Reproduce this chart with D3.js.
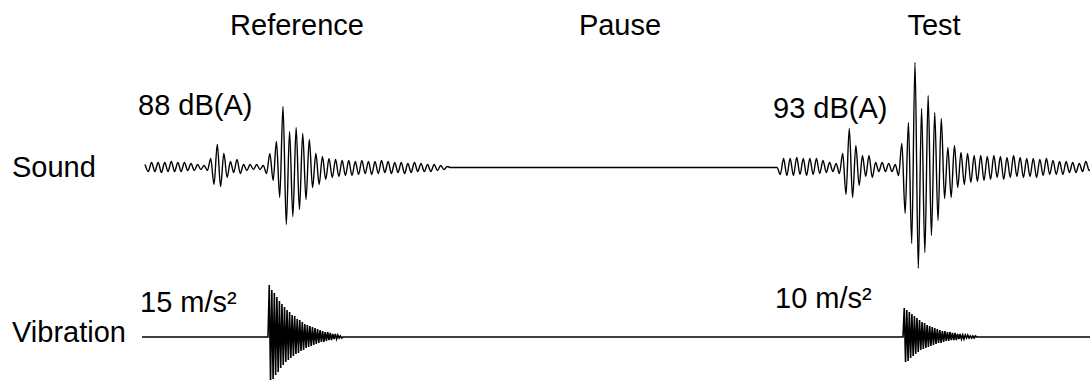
<!DOCTYPE html>
<html>
<head>
<meta charset="utf-8">
<script src="https://cdn.jsdelivr.net/npm/d3@7"></script>
<style>
  body { margin: 0; background: #fff; }
  text { font-family: "Liberation Sans", Arial, sans-serif; font-size: 29px; fill: #000; }
</style>
</head>
<body>
<div id="chart"></div>
<script>
// phases across the top
const phases = ["Reference", "Pause", "Test"];
const phaseTimes = [155, 478, 792];      // ms, centre of each title

// level labels
const soundLevels = ["88 dB(A)", "93 dB(A)"];
const vibLevels = ["15 m/s²", "10 m/s²"];

// sound: successive half-wave peaks (relative amplitude), one every soundStep ms
const soundStep = 3.2857;
const soundRefStart = 3;
const soundRef = [
  3, -4, 5, -4, 5, -5, 5, -4, 6, -4,
  5, -4, 5, -3, 4, -3, 3, -2, 2, -3,
  9, -17, 23, -19, 14, -10, 6, -5, 8, -6,
  3, -3, 3, -2, 3, -2, 2, -6, 14, -13,
  26, -30, 61, -57, 36, -49, 40, -42, 34, -32,
  28, -20, 14, -17, 11, -12, 9, -10, 8, -9,
  7, -8, 7, -8, 6, -7, 7, -6, 6, -7,
  6, -6, 7, -5, 6, -6, 5, -5, 5, -6,
  4, -5, 5, -4, 4, -4, 3, -4, 3, -3,
  2, -2, 1, 0
];
const soundTestStart = 635;
const soundTest = [
  0, -7, 9, -8, 9, -8, 10, -7, 9, -8,
  9, -7, 9, -6, 7, -5, 5, -4, 4, -6,
  14, -27, 39, -30, 22, -18, 12, -9, 12, -10,
  5, -4, 5, -4, 4, -4, 3, -8, 24, -46,
  45, -76, 105, -101, 59, -85, 72, -68, 55, -53,
  49, -31, 20, -30, 22, -20, 15, -17, 14, -15,
  12, -14, 12, -13, 11, -12, 12, -10, 11, -12,
  10, -10, 12, -9, 10, -10, 9, -9, 9, -10,
  8, -8, 9, -7, 7, -7, 6, -7, 6, -5,
  5, -5, 4, -4, 6, -3, 2
];

// vibration: decaying impulse, peaks every vibStep ms
const vibStep = 1.27;
const vibRefStart = 126;
const vibRef = [
  0, 52, -44, 47, -42, 44, -38, 40, -35, 36,
  -31, 33, -28, 30, -25, 27, -23, 25, -21, 22,
  -19, 21, -17, 18, -16, 17, -14, 15, -13, 13,
  -11, 12, -10, 11, -9, 10, -8, 9, -7, 8,
  -6, 7, -5, 6, -5, 5, -4, 5, -3, 4,
  -3, 3, -2, 3, -2, 2, -1, 1, -1, 0
];
const vibTestStart = 761;
const vibTest = [
  0, 29, -25, 27, -24, 25, -21, 23, -19, 21,
  -17, 19, -15, 17, -13, 15, -12, 14, -11, 12,
  -10, 11, -9, 10, -8, 9, -7, 8, -6, 7,
  -6, 6, -5, 6, -4, 5, -4, 5, -3, 4,
  -3, 4, -3, 3, -2, 3, -2, 2, -2, 2,
  -1, 2, -1, 1, -1, 1, -1, 1, 0, 0
];
const trackStart = 0, trackEnd = 950;

const width = 1090, height = 380;

const svg = d3.select("#chart")
  .append("svg")
  .attr("width", width)
  .attr("height", height)
  .style("display", "block");

const x = d3.scaleLinear().domain([0, 948]).range([142, 1090]);
const ySound = d3.scaleLinear().domain([-120, 120]).range([287.5, 47.5]);
const yVib = d3.scaleLinear().domain([-60, 60]).range([397, 277]);

const toPoints = (values, start, step) => values.map((v, i) => [start + i * step, v]);

const soundPoints = toPoints(soundRef, soundRefStart, soundStep)
  .concat(toPoints(soundTest, soundTestStart, soundStep));

const vibPoints = [[trackStart, 0]]
  .concat(toPoints(vibRef, vibRefStart, vibStep))
  .concat(toPoints(vibTest, vibTestStart, vibStep))
  .concat([[trackEnd, 0]]);

svg.append("path")
  .datum(soundPoints)
  .attr("fill", "none")
  .attr("stroke", "#000")
  .attr("stroke-width", 1.4)
  .attr("stroke-linejoin", "round")
  .attr("d", d3.line()
    .x(d => x(d[0]))
    .y(d => ySound(d[1]))
    .curve(d3.curveMonotoneX));

svg.append("path")
  .datum(vibPoints)
  .attr("fill", "none")
  .attr("stroke", "#000")
  .attr("stroke-width", 1.6)
  .attr("d", d3.line()
    .x(d => x(d[0]))
    .y(d => yVib(d[1])));

// titles
svg.selectAll(".phase")
  .data(phases)
  .enter().append("text")
  .attr("class", "phase")
  .attr("x", (d, i) => x(phaseTimes[i]))
  .attr("y", 35)
  .attr("text-anchor", "middle")
  .text(d => d);

// row labels
svg.append("text").attr("x", 12).attr("y", 177).text("Sound");
svg.append("text").attr("x", 12).attr("y", 342).text("Vibration");

// level annotations
svg.append("text").attr("x", 138).attr("y", 115).text(soundLevels[0]);
svg.append("text").attr("x", 773).attr("y", 118).text(soundLevels[1]);
svg.append("text").attr("x", 140).attr("y", 312).text(vibLevels[0]);
svg.append("text").attr("x", 775).attr("y", 308).text(vibLevels[1]);
</script>
</body>
</html>
